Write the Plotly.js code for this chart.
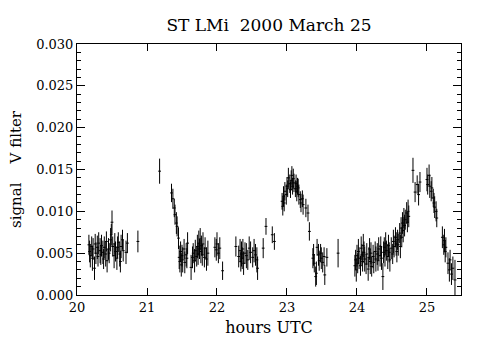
<!DOCTYPE html>
<html><head><meta charset="utf-8">
<script src="https://cdn.plot.ly/plotly-3.0.1.min.js"></script>
<style>html,body{margin:0;padding:0;background:#fff}#chart{width:480px;height:348px}</style>
</head><body><div id="chart"></div>
<script>
// Observation times (hours UTC)
var hours = [
20.17,20.18,20.19,20.21,20.22,20.23,20.25,20.26,20.27,20.29,
20.30,20.31,20.33,20.34,20.35,20.37,20.38,20.39,20.41,20.42,
20.43,20.45,20.46,20.48,20.49,20.50,20.51,20.53,20.54,20.55,
20.57,20.58,20.59,20.61,20.62,20.63,20.65,20.66,20.70,20.72,
20.87,
21.18,21.35,21.37,21.39,21.40,21.42,21.43,21.45,21.46,21.47,
21.48,21.49,21.50,21.51,21.53,21.54,21.56,21.57,21.58,21.63,
21.65,21.66,21.68,21.69,21.71,21.72,21.73,21.74,21.75,21.76,
21.77,21.78,21.79,21.80,21.82,21.83,21.85,21.87,21.97,21.99,
22.00,22.02,22.04,22.08,
22.27,22.31,22.33,22.34,22.35,22.36,22.37,22.38,22.40,22.42,
22.44,22.46,22.48,22.51,22.53,22.55,22.57,22.58,22.66,22.70,
22.79,22.82,
22.93,22.94,22.95,22.96,22.97,22.99,23.00,23.01,23.02,23.04,
23.05,23.06,23.07,23.08,23.09,23.10,23.12,23.13,23.14,23.15,
23.16,23.17,23.19,23.20,23.22,23.23,23.27,23.30,23.32,23.37,
23.38,23.39,23.41,23.42,23.43,23.45,23.46,23.48,23.49,23.51,
23.53,23.54,23.57,23.73,
23.97,23.98,23.99,24.00,24.01,24.02,24.03,24.05,24.06,24.07,
24.08,24.09,24.10,24.11,24.13,24.14,24.16,24.17,24.18,24.19,
24.20,24.21,24.23,24.24,24.26,24.27,24.29,24.30,24.31,24.33,
24.34,24.35,24.37,24.38,24.39,24.40,24.41,24.42,24.44,24.45,
24.46,24.47,24.49,24.51,24.52,24.53,24.55,24.56,24.57,24.58,
24.59,24.61,24.62,24.63,24.64,24.65,24.66,24.67,24.68,24.69,
24.71,24.72,24.73,24.74,24.80,24.83,24.86,24.88,24.90,25.00,
25.01,25.03,25.04,25.06,25.07,25.09,25.10,25.11,25.13,25.14,
25.22,25.24,25.25,25.26,25.27,25.30,25.32,25.33,25.35,25.37,
25.40
];
// Signal (V filter)
var signal = [
0.0060,0.0052,0.0047,0.0058,0.0044,0.0055,0.0032,0.0061,0.0050,0.0057,
0.0046,0.0062,0.0053,0.0048,0.0059,0.0051,0.0043,0.0057,0.0049,0.0064,
0.0041,0.0055,0.0050,0.0066,0.0072,0.0087,0.0058,0.0047,0.0061,0.0052,
0.0044,0.0057,0.0063,0.0049,0.0040,0.0058,0.0066,0.0053,0.0051,0.0062,
0.0064,
0.0148,0.0122,0.0115,0.0104,0.0096,0.0086,0.0082,0.0068,0.0045,0.0040,
0.0052,0.0036,0.0047,0.0042,0.0055,0.0039,0.0048,0.0044,0.0062,0.0033,
0.0045,0.0050,0.0041,0.0053,0.0046,0.0058,0.0049,0.0062,0.0055,0.0067,
0.0052,0.0059,0.0048,0.0061,0.0045,0.0056,0.0043,0.0050,0.0057,0.0054,
0.0061,0.0050,0.0056,0.0029,
0.0058,0.0046,0.0053,0.0040,0.0049,0.0044,0.0055,0.0038,0.0050,0.0047,
0.0042,0.0056,0.0051,0.0045,0.0053,0.0048,0.0042,0.0032,0.0056,0.0082,
0.0072,0.0064,
0.0112,0.0106,0.0118,0.0110,0.0124,0.0120,0.0130,0.0127,0.0140,0.0133,
0.0126,0.0137,0.0143,0.0130,0.0139,0.0134,0.0127,0.0133,0.0124,0.0130,
0.0128,0.0120,0.0114,0.0110,0.0115,0.0108,0.0104,0.0098,0.0076,0.0044,
0.0048,0.0038,0.0022,0.0026,0.0057,0.0048,0.0041,0.0050,0.0044,0.0039,
0.0046,0.0024,0.0045,0.0050,
0.0035,0.0042,0.0030,0.0047,0.0038,0.0052,0.0044,0.0035,0.0056,0.0048,
0.0040,0.0059,0.0051,0.0043,0.0037,0.0049,0.0031,0.0045,0.0055,0.0040,
0.0050,0.0034,0.0046,0.0039,0.0052,0.0043,0.0049,0.0041,0.0055,0.0047,
0.0058,0.0044,0.0022,0.0051,0.0057,0.0048,0.0062,0.0053,0.0046,0.0059,
0.0051,0.0042,0.0056,0.0049,0.0064,0.0058,0.0069,0.0061,0.0052,0.0066,
0.0060,0.0074,0.0058,0.0080,0.0069,0.0086,0.0077,0.0092,0.0083,0.0090,
0.0098,0.0087,0.0100,0.0094,0.0149,0.0123,0.0132,0.0120,0.0135,0.0138,
0.0132,0.0143,0.0130,0.0124,0.0128,0.0116,0.0110,0.0105,0.0100,0.0092,
0.0069,0.0060,0.0065,0.0052,0.0057,0.0038,0.0030,0.0042,0.0025,0.0032,
0.0018
];
// One-sigma uncertainties
var sigma = [
0.0012,0.0013,0.0014,0.0012,0.0015,0.0013,0.0014,0.0012,0.0013,0.0014,
0.0012,0.0013,0.0015,0.0012,0.0013,0.0014,0.0012,0.0013,0.0015,0.0012,
0.0014,0.0013,0.0012,0.0014,0.0013,0.0014,0.0012,0.0015,0.0013,0.0012,
0.0014,0.0013,0.0012,0.0015,0.0013,0.0014,0.0012,0.0013,0.0014,0.0012,
0.0013,
0.0015,0.0011,0.0012,0.0011,0.0012,0.0013,0.0012,0.0013,0.0014,0.0013,
0.0012,0.0014,0.0013,0.0015,0.0012,0.0013,0.0014,0.0012,0.0013,0.0015,
0.0013,0.0012,0.0014,0.0013,0.0012,0.0014,0.0013,0.0015,0.0012,0.0013,
0.0014,0.0012,0.0013,0.0014,0.0012,0.0013,0.0014,0.0015,0.0012,0.0013,
0.0014,0.0012,0.0013,0.0011,
0.0012,0.0013,0.0014,0.0012,0.0015,0.0013,0.0012,0.0014,0.0013,0.0015,
0.0012,0.0014,0.0013,0.0012,0.0014,0.0013,0.0015,0.0014,0.0012,0.0010,
0.0010,0.0010,
0.0010,0.0011,0.0012,0.0010,0.0011,0.0012,0.0011,0.0010,0.0012,0.0011,
0.0010,0.0012,0.0011,0.0010,0.0012,0.0011,0.0010,0.0011,0.0012,0.0010,
0.0011,0.0012,0.0010,0.0011,0.0010,0.0012,0.0011,0.0010,0.0011,0.0012,
0.0013,0.0011,0.0012,0.0014,0.0010,0.0013,0.0012,0.0011,0.0013,0.0012,
0.0011,0.0012,0.0011,0.0017,
0.0013,0.0012,0.0014,0.0013,0.0012,0.0015,0.0013,0.0012,0.0014,0.0013,
0.0012,0.0014,0.0013,0.0015,0.0012,0.0013,0.0014,0.0012,0.0013,0.0015,
0.0013,0.0012,0.0014,0.0013,0.0012,0.0015,0.0013,0.0012,0.0014,0.0013,
0.0012,0.0014,0.0016,0.0013,0.0012,0.0014,0.0013,0.0012,0.0015,0.0013,
0.0012,0.0014,0.0013,0.0012,0.0014,0.0013,0.0012,0.0014,0.0013,0.0012,
0.0013,0.0012,0.0014,0.0013,0.0012,0.0013,0.0014,0.0012,0.0013,0.0012,
0.0013,0.0012,0.0014,0.0013,0.0015,0.0012,0.0011,0.0013,0.0012,0.0014,
0.0012,0.0013,0.0014,0.0012,0.0013,0.0011,0.0012,0.0013,0.0012,0.0011,
0.0013,0.0012,0.0014,0.0013,0.0012,0.0013,0.0014,0.0012,0.0013,0.0014,
0.0024
];
var xTicks = [20, 21, 22, 23, 24, 25];
var yTicks = [0.000, 0.005, 0.010, 0.015, 0.020, 0.025, 0.030];

var FONT = '"DejaVu Serif", "Liberation Serif", serif';

var trace = {
  type: 'scatter', mode: 'markers',
  x: hours, y: signal,
  marker: {symbol: 'line-ew', size: 2, color: '#000', line: {color: '#000', width: 1}},
  error_y: {type: 'data', array: sigma, visible: true, color: '#000', thickness: 1, width: 0},
  cliponaxis: true,
  showlegend: false
};

var layout = {
  width: 480, height: 348,
  margin: {l: 77, r: 19, t: 44, b: 53, pad: 0},
  paper_bgcolor: '#fff', plot_bgcolor: '#fff',
  font: {family: FONT, color: '#000', size: 13},
  title: {text: 'ST LMi\u00a0\u00a02000 March 25', font: {family: FONT, size: 17, color: '#000'},
          xref: 'paper', x: 0.5, xanchor: 'center', yref: 'container', y: 0.928, yanchor: 'middle'},
  xaxis: {
    range: [20, 25.486], tickvals: xTicks, ticktext: xTicks.map(String),
    ticks: 'inside', ticklen: 7, tickwidth: 1, tickcolor: '#000',
    showline: true, linecolor: '#000', linewidth: 1, mirror: 'ticks',
    showgrid: false, zeroline: false,
    tickfont: {family: FONT, size: 13, color: '#000'},
    title: {text: 'hours UTC', font: {family: FONT, size: 16, color: '#000'}, standoff: 8}
  },
  yaxis: {
    range: [0, 0.030], tickvals: yTicks, ticktext: yTicks.map(function(v){return v.toFixed(3);}),
    ticks: 'inside', ticklen: 8, tickwidth: 1, tickcolor: '#000',
    minor: {dtick: 0.001, ticks: 'inside', ticklen: 4, tickcolor: '#000', showgrid: false},
    showline: true, linecolor: '#000', linewidth: 1, mirror: 'ticks',
    showgrid: false, zeroline: false,
    tickfont: {family: FONT, size: 13, color: '#000'},
    title: {text: 'signal\u00a0\u00a0\u00a0\u00a0V filter', font: {family: FONT, size: 15, color: '#000'}, standoff: 10}
  }
};

Plotly.newPlot('chart', [trace], layout, {staticPlot: true, displayModeBar: false});
</script></body></html>
